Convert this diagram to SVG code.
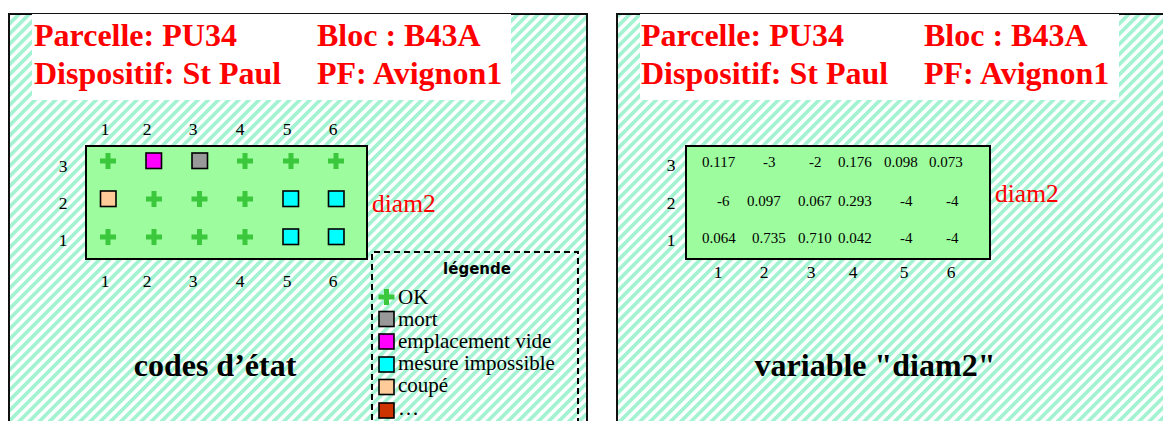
<svg xmlns="http://www.w3.org/2000/svg" width="1163" height="421" viewBox="0 0 1163 421">
<style>
.panel{stroke:#111;stroke-width:2}
.hdr{font-family:"Liberation Serif",serif;font-weight:bold;font-size:32px;fill:#ff0000}
.ttl{font-family:"Liberation Serif",serif;font-weight:bold;font-size:32px;fill:#000;text-anchor:middle}
.lab{font-family:"Liberation Serif",serif;font-size:17.5px;fill:#000;text-anchor:middle}
.val{font-family:"Liberation Serif",serif;font-size:15px;fill:#000}
.dm{font-family:"Liberation Serif",serif;font-size:25.5px;fill:#ff0000}
.grid{fill:#9dfc9d;stroke:#000;stroke-width:2}
.sq{stroke:#000;stroke-width:1.6}
.leg{font-family:"Liberation Serif",serif;font-size:21px;fill:#000}
.legt{font-family:"DejaVu Sans",sans-serif;font-weight:bold;font-size:15px;fill:#000;text-anchor:middle}
</style>
<defs>
<pattern id="hatch" patternUnits="userSpaceOnUse" width="7.2" height="20" patternTransform="rotate(45)">
<rect x="0" y="0" width="7.2" height="20" fill="#fff"/>
<rect x="0" y="0" width="3.7" height="20" fill="#a3f3d2"/>
</pattern>
<path id="plus" d="M-2.5,-8h5v5.5h5.5v5h-5.5v5.5h-5v-5.5h-5.5v-5h5.5z" fill="#3cc83c"/>
</defs>
<rect width="1163" height="421" fill="#fff"/>

<g id="panel-left">
<rect class="panel" x="9" y="14" width="578" height="420" fill="url(#hatch)"/>
<rect x="32" y="14" width="479" height="86" fill="#fff"/>
<text class="hdr" x="34" y="46">Parcelle: PU34</text>
<text class="hdr" x="317" y="46">Bloc : B43A</text>
<text class="hdr" x="34" y="84">Dispositif: St Paul</text>
<text class="hdr" x="317" y="84">PF: Avignon1</text>
</g>

<g id="grid-codes">
<g class="lab">
<text x="105" y="135">1</text><text x="147" y="135">2</text><text x="193" y="135">3</text><text x="240" y="135">4</text><text x="287" y="135">5</text><text x="333" y="135">6</text>
<text x="63" y="172">3</text><text x="63" y="209">2</text><text x="63" y="246">1</text>
<text x="105" y="287">1</text><text x="147" y="287">2</text><text x="193" y="287">3</text><text x="240" y="287">4</text><text x="287" y="287">5</text><text x="333" y="287">6</text>
</g>
<rect class="grid" x="86" y="146" width="281" height="113"/>
<use href="#plus" x="108" y="161"/>
<rect class="sq" x="146" y="153" width="15.5" height="15.5" fill="#ff00ff"/>
<rect class="sq" x="192" y="153" width="15.5" height="15.5" fill="#999999"/>
<use href="#plus" x="245" y="161"/>
<use href="#plus" x="291" y="161"/>
<use href="#plus" x="336" y="161"/>
<rect class="sq" x="100.5" y="191" width="15.5" height="15.5" fill="#ffcc99"/>
<use href="#plus" x="154" y="199"/>
<use href="#plus" x="199.5" y="199"/>
<use href="#plus" x="245" y="199"/>
<rect class="sq" x="283" y="191" width="15.5" height="15.5" fill="#00ffff"/>
<rect class="sq" x="328.5" y="191" width="15.5" height="15.5" fill="#00ffff"/>
<use href="#plus" x="108" y="237"/>
<use href="#plus" x="154" y="237"/>
<use href="#plus" x="199.5" y="237"/>
<use href="#plus" x="245" y="237"/>
<rect class="sq" x="283" y="229" width="15.5" height="15.5" fill="#00ffff"/>
<rect class="sq" x="328.5" y="229" width="15.5" height="15.5" fill="#00ffff"/>
<text class="dm" x="372" y="212">diam2</text>
<text class="ttl" x="215" y="376">codes d’état</text>
</g>

<g id="legend">
<path d="M372,430V252H578V430" fill="none" stroke="#000" stroke-width="2" stroke-dasharray="6,4"/>
<text class="legt" x="477" y="274">légende</text>
<use href="#plus" x="386.5" y="297"/>
<text class="leg" x="398" y="304">OK</text>
<rect class="sq" x="379" y="311.5" width="15" height="15" fill="#999999"/>
<text class="leg" x="398" y="326">mort</text>
<rect class="sq" x="379" y="334" width="15" height="15" fill="#ff00ff"/>
<text class="leg" x="398" y="348">emplacement vide</text>
<rect class="sq" x="379" y="357" width="15" height="15" fill="#00ffff"/>
<text class="leg" x="398" y="370">mesure impossible</text>
<rect class="sq" x="379" y="379.5" width="15" height="15" fill="#ffcc99"/>
<text class="leg" x="398" y="392">coupé</text>
<rect class="sq" x="379" y="403" width="15" height="15" fill="#cc3300"/>
<text class="leg" x="398" y="415">…</text>
</g>

<g id="panel-right">
<rect class="panel" x="617" y="14" width="560" height="420" fill="url(#hatch)"/>
<rect x="640" y="14" width="479" height="86" fill="#fff"/>
<text class="hdr" x="641" y="46">Parcelle: PU34</text>
<text class="hdr" x="924" y="46">Bloc : B43A</text>
<text class="hdr" x="641" y="84">Dispositif: St Paul</text>
<text class="hdr" x="924" y="84">PF: Avignon1</text>
</g>

<g id="grid-diam2">
<g class="lab">
<text x="671" y="171">3</text><text x="671" y="209">2</text><text x="671" y="246">1</text>
<text x="718" y="278">1</text><text x="764" y="278">2</text><text x="811" y="278">3</text><text x="853" y="278">4</text><text x="904" y="278">5</text><text x="951" y="278">6</text>
</g>
<rect class="grid" x="686" y="146" width="304" height="113"/>
<g class="val">
<text x="702" y="167">0.117</text><text x="763" y="167">-3</text><text x="809" y="167">-2</text><text x="838" y="167">0.176</text><text x="884" y="167">0.098</text><text x="929" y="167">0.073</text>
<text x="717" y="206">-6</text><text x="747" y="206">0.097</text><text x="798" y="206">0.067</text><text x="838" y="206">0.293</text><text x="900" y="206">-4</text><text x="946" y="206">-4</text>
<text x="702" y="243">0.064</text><text x="752" y="243">0.735</text><text x="798" y="243">0.710</text><text x="838" y="243">0.042</text><text x="900" y="243">-4</text><text x="946" y="243">-4</text>
</g>
<text class="dm" x="995" y="202">diam2</text>
<text class="ttl" x="875" y="376">variable "diam2"</text>
</g>
</svg>
